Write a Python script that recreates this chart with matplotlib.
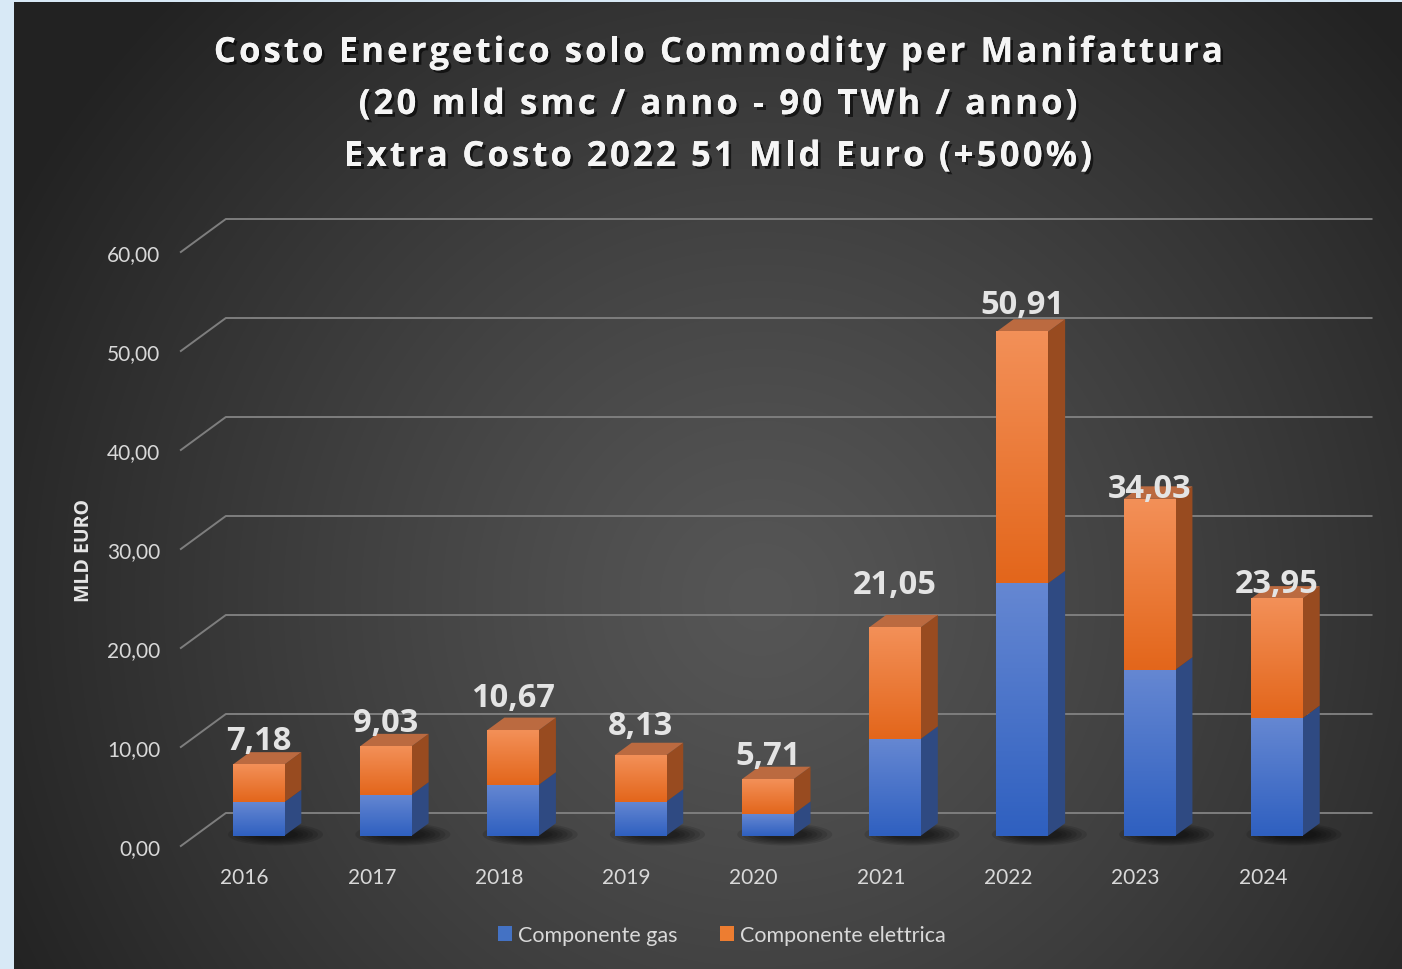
import numpy as np
import matplotlib.pyplot as plt
import matplotlib.patheffects as pe
from matplotlib.lines import Line2D
from matplotlib.patches import Polygon, Patch, Ellipse
from matplotlib.transforms import IdentityTransform, ScaledTranslation
from matplotlib.font_manager import FontProperties
from matplotlib.colors import to_rgb

plt.rcParams["font.family"] = ["Lato", "DejaVu Sans"]

# data (MLD Euro)
years = ["2016", "2017", "2018", "2019", "2020", "2021", "2022", "2023", "2024"]
gas = [3.38, 4.15, 5.16, 3.44, 2.20, 9.79, 25.50, 16.77, 11.88]
elettrica = [3.80, 4.88, 5.51, 4.69, 3.51, 11.26, 25.41, 17.26, 12.07]
series_names = ["Componente gas", "Componente elettrica"]
yticks = [0, 10, 20, 30, 40, 50, 60]
title_lines = [
    "Costo Energetico solo Commodity per Manifattura",
    "(20 mld smc / anno - 90 TWh / anno)",
    "Extra Costo 2022 51 Mld Euro (+500%)",
]

# layout / style
W, H = 1402, 970
DX, DY = 45, 33          # depth of the fake 3d box in pixels
F_FRONT, F_BACK = 0.31, 0.69
BAR_W = 0.405
label_lift = [16, 15, 24, 21, 15, 34, 19, 2, 7]   # px above the bar's front top (as in the source)
BOLD = ["Open Sans", "DejaVu Sans"]

# colours: front top / front bottom / side / top face
COLS = {
    "gas": ("#6587d2", "#2f60c0", "#2f4a82", "#4a68a8"),
    "ele": ("#f39058", "#e3661b", "#984b20", "#bb6a40"),
}
LEG = {"gas": "#4472c4", "ele": "#ed7d31"}

fig = plt.figure(figsize=(W / 100, H / 100), dpi=100, facecolor="#d8e9f6")

# dark radial background
bg = fig.add_axes([14 / W, 0, (W - 14) / W, (H - 3) / H])
bg.set_axis_off()
yy, xx = np.mgrid[3:H, 14:W]
r = np.hypot(xx - 760, yy - 600) / 850
v = (86 - 52 * np.clip(r, 0, 1) ** 1.2) / 255
bg.imshow(np.repeat(v[..., None], 3, axis=2), aspect="auto", interpolation="bilinear")

ax = fig.add_axes([180.85 / W, (H - 847) / H, 1145.7 / W, 594 / H])
ax.set_xlim(-0.5, 8.5)
ax.set_ylim(0, 60)
ax.set_autoscale_on(False)
ax.patch.set_alpha(0)
for s in ax.spines.values():
    s.set_visible(False)
ax.set_xticks(range(len(years)), years)
ax.set_yticks(yticks, [f"{t:.2f}".replace(".", ",") for t in yticks])
ax.tick_params(length=0, colors="#d9d9d9", labelsize=15)
ax.tick_params(axis="y", pad=15)
ax.tick_params(axis="x", pad=15)

ident = IdentityTransform()


def proj(x, val, d):
    px, py = ax.transData.transform((x, val))
    return (px + DX * d, py + DY * d)


# back wall gridlines and left wall diagonals
for t in yticks:
    a, b, c = proj(-0.5, t, 0), proj(-0.5, t, 1), proj(8.5, t, 1)
    ax.add_line(Line2D([a[0], b[0], c[0]], [a[1], b[1], c[1]], transform=ident,
                       color="#7e7e7e", lw=1.4, clip_on=False, zorder=1))

front = ax.transData + ScaledTranslation(DX * F_FRONT / 100, DY * F_FRONT / 100,
                                         fig.dpi_scale_trans)


def grad(c1, c2, n=64):
    a, b = np.array(to_rgb(c1)), np.array(to_rgb(c2))
    t = np.linspace(0, 1, n)[:, None]
    return (a * (1 - t) + b * t)[:, None, :]


for i, (g, e) in enumerate(zip(gas, elettrica)):
    xl, xr = i - BAR_W / 2, i + BAR_W / 2
    total = g + e

    # soft shadow on the floor
    cx, cy = proj(i + 0.12, 0, 0.35)
    for k in range(6):
        ax.add_patch(Ellipse((cx, cy), 95 - 10 * k, 22 - 2.5 * k, transform=ident,
                             color="black", alpha=0.12, lw=0, clip_on=False, zorder=2))

    for key, v0, v1 in (("gas", 0, g), ("ele", g, total)):
        ctop, cbot, cside, ctopface = COLS[key]
        ax.imshow(grad(ctop, cbot), extent=(xl, xr, v0, v1), transform=front,
                  aspect="auto", interpolation="bilinear", zorder=4, clip_on=False)
        side = [proj(xr, v0, F_FRONT), proj(xr, v0, F_BACK),
                proj(xr, v1, F_BACK), proj(xr, v1, F_FRONT)]
        ax.add_patch(Polygon(side, closed=True, transform=ident, facecolor=cside,
                             lw=0, clip_on=False, zorder=3))
    topf = [proj(xl, total, F_FRONT), proj(xr, total, F_FRONT),
            proj(xr, total, F_BACK), proj(xl, total, F_BACK)]
    ax.add_patch(Polygon(topf, closed=True, transform=ident, facecolor=COLS["ele"][3],
                         lw=0, clip_on=False, zorder=3))

    ax.annotate(f"{total:.2f}".replace(".", ","), xy=(i, total),
                xytext=(DX * F_FRONT * 0.72, (DY * F_FRONT + label_lift[i]) * 0.72),
                textcoords="offset points", ha="center", va="baseline",
                fontsize=23.5, fontweight="bold", family=BOLD, color="#e4e4e4", zorder=6)

fig.text(84 / W, 1 - 550 / H, "MLD EURO", rotation=90, ha="center", va="center",
         fontsize=14, fontweight="bold", family=BOLD, color="#e6e6e6")

# title, drawn letter by letter to get the wide tracking of the original
renderer = fig.canvas.get_renderer()
tprop = FontProperties(family=BOLD, weight="bold", size=25)
TRACK = 3.1


def text_w(s):
    return renderer.get_text_width_height_descent(s, tprop, ismath=False)[0]


shadow = [pe.withSimplePatchShadow(offset=(2, -2), shadow_rgbFace="black", alpha=0.6),
          pe.Normal()]
for k, line in enumerate(title_lines):
    wl = text_w("l")
    pos = [text_w(line[:j] + "l") - wl if j else 0 for j in range(len(line))]
    total_w = text_w(line) + TRACK * (len(line) - 1)
    x0 = 718 - total_w / 2
    base = 63 + 52 * k
    for j, ch in enumerate(line):
        if ch == " ":
            continue
        fig.text((x0 + pos[j] + TRACK * j) / W, 1 - base / H, ch, ha="left",
                 va="baseline", fontproperties=tprop, color="#f5f5f5",
                 path_effects=shadow)

handles = [Patch(facecolor=LEG["gas"], label=series_names[0]),
           Patch(facecolor=LEG["ele"], label=series_names[1])]
fig.legend(handles=handles, loc="center", bbox_to_anchor=(722 / W, 1 - 936 / H),
           ncol=2, frameon=False, fontsize=15.5, labelcolor="#d9d9d9",
           handlelength=0.65, handleheight=0.65, handletextpad=0.25, columnspacing=2.0)

fig.savefig("out.png", dpi=100, facecolor=fig.get_facecolor())
